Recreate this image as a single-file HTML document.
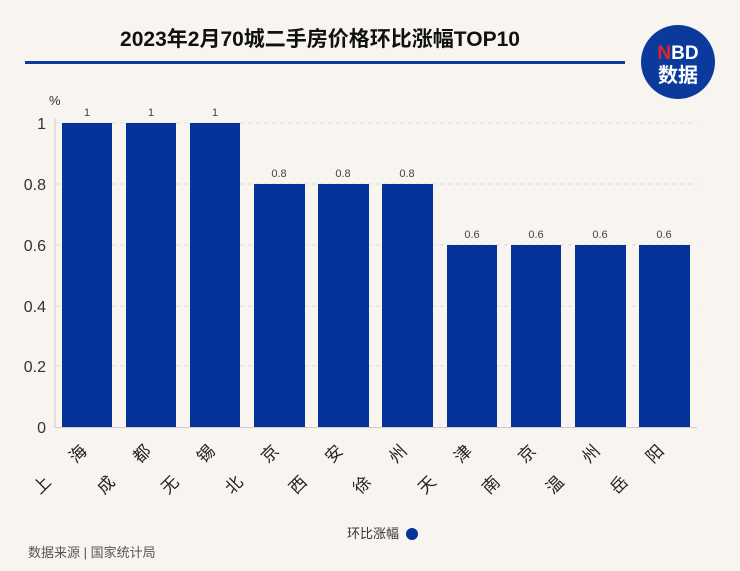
<!DOCTYPE html>
<html><head><meta charset="utf-8"><style>
body{margin:0;background:#f8f5f0;}
svg{display:block;font-family:"Liberation Sans","Noto Sans CJK SC",sans-serif;}
</style></head><body>
<svg width="740" height="571" viewBox="0 0 740 571">
<rect width="740" height="571" fill="#f8f5f0"/>
<text x="320" y="46" font-size="21" font-weight="bold" text-anchor="middle" fill="#111">2023年2月70城二手房价格环比涨幅TOP10</text>
<rect x="25" y="61" width="600" height="3" fill="#0b3a9c"/>
<circle cx="678" cy="62" r="37" fill="#0b3a9c"/>
<text x="678" y="59" font-size="19" font-weight="bold" text-anchor="middle" fill="#fff"><tspan fill="#e0262b">N</tspan>BD</text>
<text x="678" y="82" font-size="20" font-weight="bold" text-anchor="middle" fill="#fff">数据</text>
<g stroke="#ddd" stroke-dasharray="4,4">
<line x1="56" y1="123" x2="697" y2="123"/><line x1="56" y1="184" x2="697" y2="184"/>
<line x1="56" y1="245" x2="697" y2="245"/><line x1="56" y1="306" x2="697" y2="306"/>
<line x1="56" y1="366" x2="697" y2="366"/>
</g>
<line x1="55" y1="118" x2="55" y2="428" stroke="#ccc"/>
<line x1="55" y1="427.5" x2="697" y2="427.5" stroke="#ccc"/>
<g font-size="16" fill="#333" text-anchor="end">
<text x="46" y="129">1</text><text x="46" y="190">0.8</text><text x="46" y="251">0.6</text>
<text x="46" y="312">0.4</text><text x="46" y="372">0.2</text><text x="46" y="433">0</text>
</g>
<text x="49" y="105" font-size="13" fill="#333">%</text>
<g fill="#06329b">
<rect x="62" y="123" width="50" height="304"/><rect x="126" y="123" width="50" height="304"/>
<rect x="190" y="123" width="50" height="304"/><rect x="254" y="184" width="51" height="243"/>
<rect x="318" y="184" width="51" height="243"/><rect x="382" y="184" width="51" height="243"/>
<rect x="447" y="245" width="50" height="182"/><rect x="511" y="245" width="50" height="182"/>
<rect x="575" y="245" width="51" height="182"/><rect x="639" y="245" width="51" height="182"/>
</g>
<g font-size="11" fill="#444" text-anchor="middle">
<text x="87" y="116">1</text><text x="151" y="116">1</text><text x="215" y="116">1</text>
<text x="279" y="177">0.8</text><text x="343" y="177">0.8</text><text x="407" y="177">0.8</text>
<text x="472" y="238">0.6</text><text x="536" y="238">0.6</text><text x="600" y="238">0.6</text><text x="664" y="238">0.6</text>
</g>
<g font-size="17" fill="#222" text-anchor="middle">
<text transform="translate(82,458) rotate(-45)">海</text><text transform="translate(46,489) rotate(-45)">上</text>
<text transform="translate(146,458) rotate(-45)">都</text><text transform="translate(110,489) rotate(-45)">成</text>
<text transform="translate(210,458) rotate(-45)">锡</text><text transform="translate(174,489) rotate(-45)">无</text>
<text transform="translate(274,458) rotate(-45)">京</text><text transform="translate(238,489) rotate(-45)">北</text>
<text transform="translate(338,458) rotate(-45)">安</text><text transform="translate(302,489) rotate(-45)">西</text>
<text transform="translate(402,458) rotate(-45)">州</text><text transform="translate(366,489) rotate(-45)">徐</text>
<text transform="translate(467,458) rotate(-45)">津</text><text transform="translate(431,489) rotate(-45)">天</text>
<text transform="translate(531,458) rotate(-45)">京</text><text transform="translate(495,489) rotate(-45)">南</text>
<text transform="translate(595,458) rotate(-45)">州</text><text transform="translate(559,489) rotate(-45)">温</text>
<text transform="translate(659,458) rotate(-45)">阳</text><text transform="translate(623,489) rotate(-45)">岳</text>
</g>
<text x="373" y="538" font-size="13" fill="#333" text-anchor="middle">环比涨幅</text>
<circle cx="412" cy="534" r="6" fill="#06329b"/>
<text x="28" y="557" font-size="13" fill="#555">数据来源 | 国家统计局</text>
</svg>
</body></html>
